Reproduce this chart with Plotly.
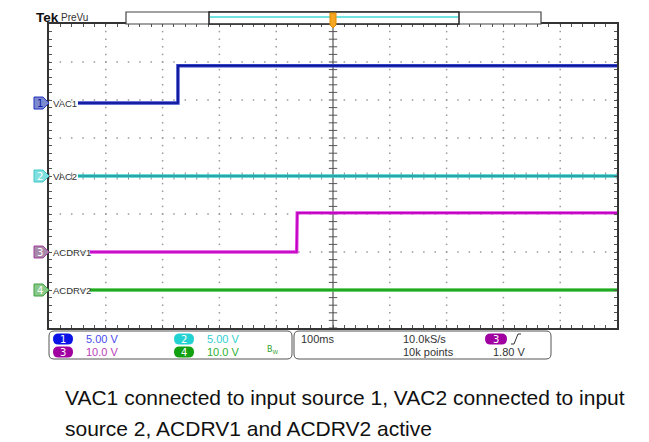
import plotly.graph_objects as go
import numpy as np

# ---------------- data ----------------
time_per_div_ms = 100
channel_names = ["VAC1", "VAC2", "ACDRV1", "ACDRV2"]
channel_numbers = ["1", "2", "3", "4"]
volts_per_div = [5.0, 5.0, 10.0, 10.0]
ground_div = [1.92, 0.0, -2.0, -3.0]   # ground reference level (divisions from centre)

vac1_t = [-449, -273, -273, 500]
vac1_v = [0.0, 0.0, 4.9, 4.9]
vac2_t = [-449, 500]
vac2_v = [0.0, 0.0]
acdrv1_t = [-428, -64, -63, 500]
acdrv1_v = [0.0, 0.0, 10.3, 10.3]
acdrv2_t = [-428, 500]
acdrv2_v = [0.0, 0.0]

scale_labels = ["5.00 V", "5.00 V", "10.0 V", "10.0 V"]
timebase_label = "100ms"
sample_rate_label = "10.0kS/s"
record_label = "10k points"
trigger_level_label = "1.80 V"
caption_lines = ["VAC1 connected to input source 1, VAC2 connected to input",
                 "source 2, ACDRV1 and ACDRV2 active"]

# ---------------- layout helpers ----------------
PAGE_W, PAGE_H = 649, 442
OFF = 8                      # page body margin
W, H = PAGE_W - OFF, PAGE_H - OFF
L, R, T, B = 49, 617, 24, 328   # plot area in page pixels


def px(x):
    return (x - L) / (R - L)


def py(y):
    return (B - y) / (B - T)


def rrect(x0, y0, x1, y1, r):
    pts = [
        f"M {px(x0 + r)},{py(y0)}",
        f"L {px(x1 - r)},{py(y0)}",
        f"Q {px(x1)},{py(y0)} {px(x1)},{py(y0 + r)}",
        f"L {px(x1)},{py(y1 - r)}",
        f"Q {px(x1)},{py(y1)} {px(x1 - r)},{py(y1)}",
        f"L {px(x0 + r)},{py(y1)}",
        f"Q {px(x0)},{py(y1)} {px(x0)},{py(y1 - r)}",
        f"L {px(x0)},{py(y0 + r)}",
        f"Q {px(x0)},{py(y0)} {px(x0 + r)},{py(y0)}",
        "Z",
    ]
    return " ".join(pts)


colors = ["#0c1496", "#1e9c9c", "#c000c0", "#18a018"]
light = ["#3442c8", "#40cccc", "#e040e0", "#40c040"]

fig = go.Figure()

# grid dots
gx, gy = [], []
steps_x = np.round(np.arange(-5, 5.001, 0.2), 3)
steps_y = np.round(np.arange(-4, 4.001, 0.2), 3)
for yv in [-3, -2, -1, 1, 2, 3]:
    for xv in steps_x:
        gx.append(xv); gy.append(yv)
for xv in [-4, -3, -2, -1, 1, 2, 3, 4]:
    for yv in steps_y:
        gx.append(xv); gy.append(yv)
fig.add_trace(go.Scatter(x=gx, y=gy, mode="markers",
                         marker=dict(symbol="square", size=1.5, color="#999999"),
                         hoverinfo="skip", showlegend=False))

# centre cross ticks
fig.add_trace(go.Scatter(x=[0] * len(steps_y), y=steps_y, mode="markers",
                         marker=dict(symbol="line-ew", size=6,
                                     line=dict(width=1, color="#555")),
                         hoverinfo="skip", showlegend=False))
fig.add_trace(go.Scatter(x=steps_x, y=[0] * len(steps_x), mode="markers",
                         marker=dict(symbol="line-ns", size=5,
                                     line=dict(width=1, color="#888")),
                         hoverinfo="skip", showlegend=False))

# waveforms
series = [(vac1_t, vac1_v), (vac2_t, vac2_v), (acdrv1_t, acdrv1_v), (acdrv2_t, acdrv2_v)]
for i, (tt, vv) in enumerate(series):
    xd = [t / time_per_div_ms for t in tt]
    yd = [ground_div[i] + v / volts_per_div[i] for v in vv]
    fig.add_trace(go.Scatter(x=xd, y=yd, mode="lines",
                             line=dict(color=light[i], width=3.4),
                             hoverinfo="skip", showlegend=False))
    fig.add_trace(go.Scatter(x=xd, y=yd, mode="lines",
                             line=dict(color=colors[i], width=1.6),
                             name=channel_names[i], showlegend=False))

shapes = []
annotations = []

# centre vertical line (trigger position)
shapes.append(dict(type="line", xref="x", yref="y", x0=0, x1=0, y0=-4, y1=4,
                   line=dict(color="#9a9a9a", width=2), layer="below"))

# record bar
shapes.append(dict(type="rect", xref="paper", yref="paper", x0=px(126), x1=px(541),
                   y0=py(24), y1=py(12), line=dict(color="#444", width=1.2),
                   fillcolor="white"))
shapes.append(dict(type="rect", xref="paper", yref="paper", x0=px(209), x1=px(459),
                   y0=py(24), y1=py(12), line=dict(color="#222", width=1.5),
                   fillcolor="white"))
shapes.append(dict(type="line", xref="paper", yref="paper", x0=px(210), x1=px(458),
                   y0=py(17), y1=py(17), line=dict(color="#40d8d8", width=1.5)))
# trigger marker
trig = (f"M {px(330)},{py(13)} L {px(336)},{py(13)} L {px(336)},{py(25)} "
        f"L {px(333)},{py(28)} L {px(330)},{py(25)} Z")
shapes.append(dict(type="path", xref="paper", yref="paper", path=trig,
                   fillcolor="#f5a623", line=dict(color="#e08a00", width=1)))

# channel tags
tag_fill = ["#7c8ad0", "#80e0e0", "#a888a8", "#88c888"]
tag_line = ["#2030c0", "#40c8c8", "#a040a0", "#40a040"]
tag_text = ["#1020a0", "#ffffff", "#ffffff", "#ffffff"]
for i in range(4):
    yc = 176 - ground_div[i] * 38
    path = (f"M {px(34)},{py(yc - 6)} L {px(43)},{py(yc - 6)} L {px(49)},{py(yc)} "
            f"L {px(43)},{py(yc + 6)} L {px(34)},{py(yc + 6)} Z")
    shapes.append(dict(type="path", xref="paper", yref="paper", path=path,
                       fillcolor=tag_fill[i], line=dict(color=tag_line[i], width=1)))
    annotations.append(dict(x=px(39.5), y=py(yc), xref="paper", yref="paper",
                            text=channel_numbers[i], showarrow=False,
                            font=dict(family="DejaVu Sans", size=10, color=tag_text[i]),
                            xanchor="center", yanchor="middle"))
    annotations.append(dict(x=px(51), y=py(yc), xref="paper", yref="paper",
                            text=channel_names[i], showarrow=False,
                            font=dict(family="Liberation Sans", size=9.5, color="#333"),
                            xanchor="left", yanchor="middle"))

# readout boxes
shapes.append(dict(type="path", xref="paper", yref="paper",
                   path=rrect(49, 331, 292, 359, 5), line=dict(color="#555", width=1)))
shapes.append(dict(type="path", xref="paper", yref="paper",
                   path=rrect(294, 331, 551, 359, 5), line=dict(color="#555", width=1)))

badge_pos = [(63, 339), (184, 339), (63, 352), (184, 352)]
badge_col = ["#0a14e6", "#22d2d2", "#a000a0", "#10a010"]
text_col = ["#4a4af0", "#30d0d0", "#b840b8", "#30b030"]
for i in range(4):
    bx, by = badge_pos[i]
    shapes.append(dict(type="path", xref="paper", yref="paper",
                       path=rrect(bx - 10, by - 5.5, bx + 10, by + 5.5, 5.5),
                       fillcolor=badge_col[i], line=dict(width=0)))
    annotations.append(dict(x=px(bx), y=py(by), xref="paper", yref="paper",
                            text=channel_numbers[i], showarrow=False,
                            font=dict(family="DejaVu Sans", size=10, color="white"),
                            xanchor="center", yanchor="middle"))
    annotations.append(dict(x=px(bx + 21), y=py(by), xref="paper", yref="paper",
                            text=scale_labels[i], showarrow=False,
                            font=dict(family="Liberation Sans", size=11, color=text_col[i]),
                            xanchor="left", yanchor="middle"))
annotations.append(dict(x=px(265), y=py(350), xref="paper", yref="paper",
                        text="B<sub>W</sub>", showarrow=False,
                        font=dict(family="DejaVu Sans", size=8, color="#30a030"),
                        xanchor="left", yanchor="middle"))

box2 = [(299, 339, timebase_label), (401, 339, sample_rate_label),
        (401, 352, record_label), (491, 352, trigger_level_label)]
for (bx, by, txt) in box2:
    annotations.append(dict(x=px(bx), y=py(by), xref="paper", yref="paper",
                            text=txt, showarrow=False,
                            font=dict(family="Liberation Sans", size=11, color="#333"),
                            xanchor="left", yanchor="middle"))
shapes.append(dict(type="path", xref="paper", yref="paper",
                   path=rrect(485, 333.5, 507, 344.5, 5.5),
                   fillcolor="#a000a0", line=dict(width=0)))
annotations.append(dict(x=px(496), y=py(339), xref="paper", yref="paper",
                        text="3", showarrow=False,
                        font=dict(family="DejaVu Sans", size=10, color="white"),
                        xanchor="center", yanchor="middle"))
shapes.append(dict(type="path", xref="paper", yref="paper",
                   path=f"M {px(511)},{py(344)} L {px(514)},{py(344)} L {px(518)},{py(334)} L {px(521)},{py(334)}",
                   line=dict(color="#333", width=1)))

# header
annotations.append(dict(x=px(34), y=py(17), xref="paper", yref="paper",
                        text="<b>Tek</b>", showarrow=False,
                        font=dict(family="Liberation Sans", size=13.5, color="#111"),
                        xanchor="left", yanchor="middle"))
annotations.append(dict(x=px(59), y=py(17), xref="paper", yref="paper",
                        text="PreVu", showarrow=False,
                        font=dict(family="Liberation Sans", size=10, color="#333"),
                        xanchor="left", yanchor="middle"))

# caption
for k, line in enumerate(caption_lines):
    annotations.append(dict(x=px(63), y=py(398 + 30 * k), xref="paper", yref="paper",
                            text=line, showarrow=False,
                            font=dict(family="Liberation Sans", size=21, color="#111"),
                            xanchor="left", yanchor="middle"))

axis_common = dict(showgrid=False, zeroline=False, showticklabels=False,
                   ticks="inside", ticklen=3, tickcolor="#555", tickwidth=1,
                   showline=True, linecolor="#333", linewidth=1.5, mirror="ticks",
                   fixedrange=True, tick0=0, dtick=0.2)

fig.update_layout(
    width=W, height=H,
    margin=dict(l=L - OFF, r=PAGE_W - R, t=T - OFF, b=PAGE_H - B, pad=0),
    paper_bgcolor="white", plot_bgcolor="white",
    xaxis=dict(range=[-5, 5], **axis_common),
    yaxis=dict(range=[-4, 4], **axis_common),
    shapes=shapes, annotations=annotations,
    showlegend=False,
)

fig.write_html("out.html")
